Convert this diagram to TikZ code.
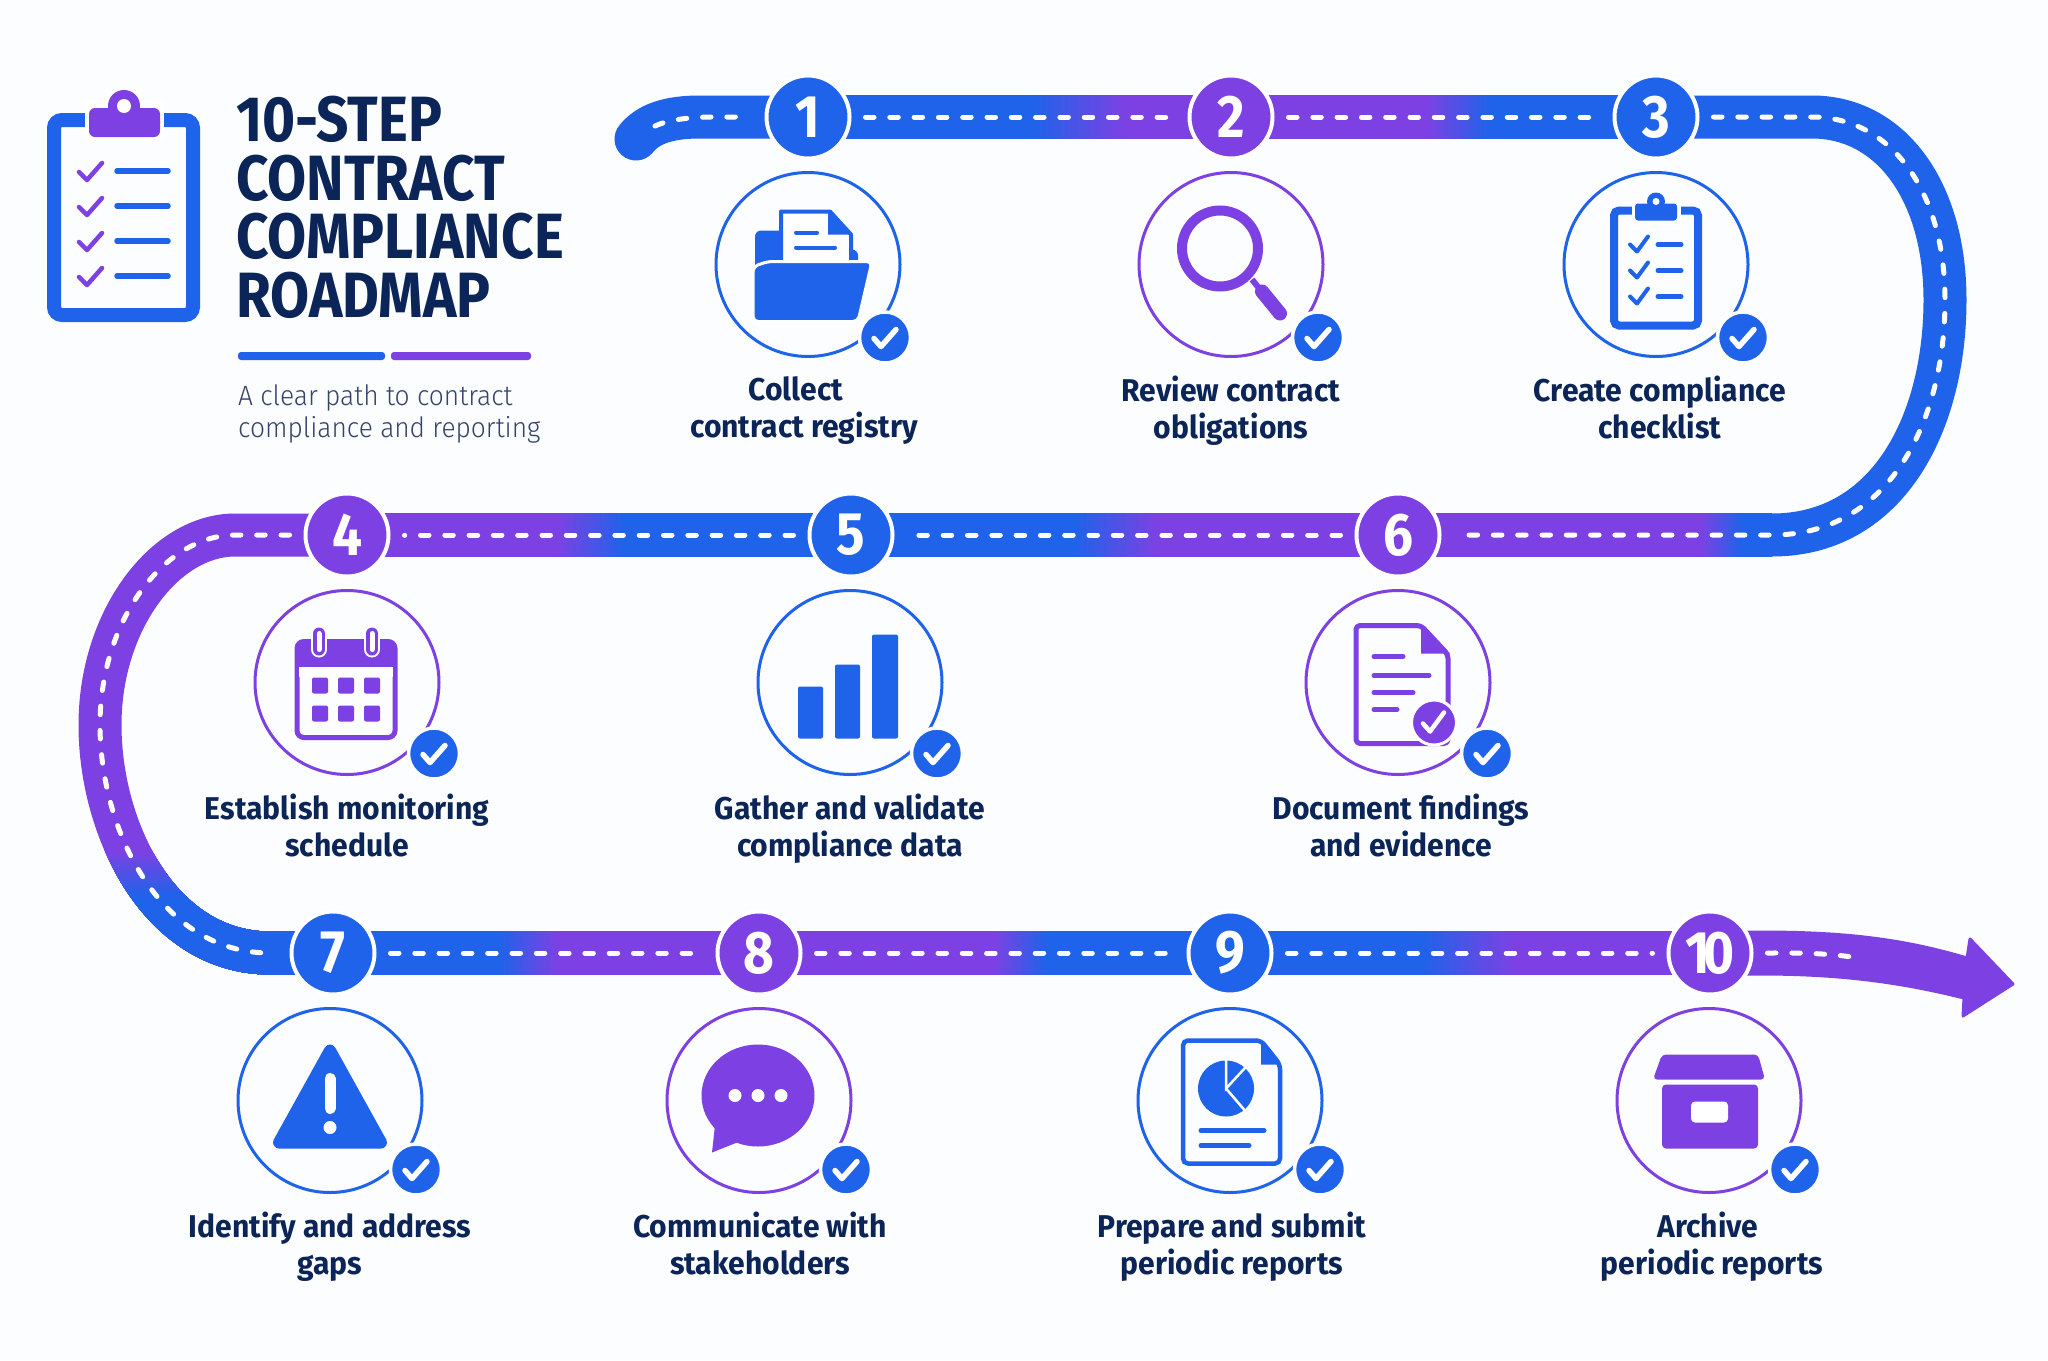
\documentclass[tikz,border=0pt]{standalone}
\usepackage{fontspec}
\usepackage{tikz}
\usetikzlibrary{arrows.meta,positioning,backgrounds}
\newfontfamily\labelfont[FakeStretch=0.955]{Fira Sans}
\newfontfamily\titlefont[FakeStretch=0.885]{Fira Sans}
\newfontfamily\subfont[FakeStretch=0.94]{Fira Sans Light}
\definecolor{roadblue}{HTML}{1E63E9}
\definecolor{roadviolet}{HTML}{7D41E3}
\definecolor{inkblue}{HTML}{0C2558}
\definecolor{subgrey}{HTML}{35436A}
\definecolor{paper}{HTML}{FCFDFE}
% one stretch of road: solid, then a blend in thin steps, then solid
\newcommand{\roadseg}[6]{
  \fill[#3] ([yshift=22pt]#1.center) rectangle ([yshift=-22pt]#2.center);
  \foreach \k [evaluate=\k as \pct using \k*100/30] in {1,...,30}{
    \coordinate (ga) at ({#5+(#6-#5)*\k/30},0 |- #1);
    \fill[#4!\pct!#3] ([yshift=22pt]ga) rectangle ([yshift=-22pt]#2.center);
  }
}
\newcommand{\oktick}[1]{\draw[white,line width=5.5pt,line join=round,line cap=round]
  ([shift={(-11,1)}]#1.center) -- ([shift={(-4,9)}]#1.center) -- ([shift={(11,-8)}]#1.center);}
\def\rightbend{(rt) .. controls (1890,117) and (1945,190) .. (1945,300) .. controls (1945,420) and (1890,535) .. (rb)}
\def\leftbend{(lt) .. controls (165,535) and (100,620) .. (100,725) .. controls (100,830) and (160,953) .. (lb)}
\begin{document}
\begin{tikzpicture}[x=1pt,y=-1pt,
  node distance=10.5pt,
  stepnum/.style={circle,fill=#1,draw=white,line width=4pt,minimum size=83pt,inner sep=0pt,text=white,font=\titlefont\bfseries\fontsize{60}{60}\selectfont},
  ring/.style={circle,draw=#1,line width=3pt,minimum size=184pt,inner sep=0pt},
  okbadge/.style={circle,fill=roadblue,draw=white,line width=3.5pt,minimum size=51pt,inner sep=0pt},
  steplabel/.style={below=18pt of #1,align=center,inner sep=0pt,text=inkblue,font=\labelfont\bfseries\fontsize{31.5}{37}\selectfont,execute at begin node={\rule{0pt}{22pt}}},
  lane/.style={white,line width=5pt,line cap=round,dash pattern=on 8.5pt off 15.8pt,shorten <=14pt,shorten >=14pt},
  roadline/.style={line width=43pt},
  tickline/.style={line width=#1,line cap=round,line join=round}]
\useasboundingbox (0,0) rectangle (2048,1360);

% step numbers on the road
\node[stepnum=roadblue] (n1) at (808,117) {1};
\node[stepnum=roadviolet] (n2) at (1231,117) {2};
\node[stepnum=roadblue] (n3) at (1656,117) {3};
\node[stepnum=roadviolet] (n4) at (347,535) {4};
\node[stepnum=roadblue] (n5) at (851,535) {5};
\node[stepnum=roadviolet] (n6) at (1398,535) {6};
\node[stepnum=roadblue] (n7) at (333,953) {7};
\node[stepnum=roadviolet] (n8) at (759,953) {8};
\node[stepnum=roadblue] (n9) at (1230,953) {9};
\node[stepnum=roadviolet] (n10) at (1710,953) {1\kern-6pt 0};
\coordinate (rs) at (636,139);
\coordinate (rd) at (655,126);
\coordinate (rt) at (1812,117);
\coordinate (rb) at (1772,535);
\coordinate (lt) at (235,535);
\coordinate (lb) at (270,953);
\coordinate (lanetip) at (1860,958);

% road under the nodes
\begin{scope}[on background layer]
\fill[paper] (0,0) rectangle (2048,1360);
\draw[roadline,roadblue,line cap=round] (rs) .. controls (648,124) and (668,117) .. (700,117) -- (n1.center);
\roadseg{n1}{n2}{roadblue}{roadviolet}{1030}{1125}
\roadseg{n2}{n3}{roadviolet}{roadblue}{1426}{1490}
\draw[roadline,roadblue] (n3.center) -- \rightbend -- ++(-12,0);
\roadseg{n6}{rb}{roadviolet}{roadblue}{1700}{1742}
\roadseg{n5}{n6}{roadblue}{roadviolet}{1072}{1158}
\roadseg{n4}{n5}{roadviolet}{roadblue}{555}{625}
\draw[roadline,roadviolet] (n4.center) -- \leftbend -- (n7.center);
\foreach \i [evaluate=\i as \pct using \i*100/15] in {0,...,15}{
  \begin{scope}
  \clip (0,{850+3*\i}) rectangle (600,1100);
  \draw[roadline,roadblue!\pct!roadviolet] (n4.center) -- \leftbend -- (n7.center);
  \end{scope}
}
\roadseg{n7}{n8}{roadblue}{roadviolet}{498}{558}
\roadseg{n8}{n9}{roadviolet}{roadblue}{993}{1047}
\roadseg{n9}{n10}{roadblue}{roadviolet}{1419}{1514}
\fill[roadviolet,draw=roadviolet,line width=3pt,line join=round] (1710,932) -- (1760,932) .. controls (1840,932) and (1900,938) .. (1967,958) -- (1970,939)
  -- (2013,984) -- (1963,1016) -- (1964,998) .. controls (1900,982) and (1840,974) .. (1760,974) -- (1710,974) -- cycle;
\end{scope}

% centre line
\draw[lane,shorten <=0pt] (rd) .. controls (668,120) and (688,117) .. (715,117) -- (n1);
\draw[lane] (n1) -- (n2);
\draw[lane] (n2) -- (n3);
\draw[lane] (n3) -- \rightbend -- (n6);
\draw[lane] (n6) -- (n5);
\draw[lane] (n5) -- (n4);
\draw[lane] (n4) -- \leftbend -- (n7);
\draw[lane] (n7) -- (n8);
\draw[lane] (n8) -- (n9);
\draw[lane] (n9) -- (n10);
\draw[lane,shorten >=0pt] (n10) to[out=0,in=172] (lanetip);

% heading
\begin{scope}
\draw[roadblue,line width=14pt,rounded corners=8pt] (54,120) rectangle (193,315);
\fill[white] (85,100) rectangle (164,140);
\fill[roadviolet,rounded corners=6pt] (89,108) rectangle (160,137);
\fill[roadviolet] (124,106) circle (16);
\fill[white] (124,106) circle (7);
\foreach \y in {172,207,242,277}{
  \draw[roadviolet,tickline=4.5pt] (79,\y) -- (87,{\y+8}) -- (102,{\y-9});
  \draw[roadblue,tickline=5.5pt] (117,{\y-1}) -- (168,{\y-1});
}
\end{scope}
\node[anchor=north west,align=left,inner sep=0pt,text=inkblue,font=\titlefont\bfseries\fontsize{64}{58.5}\selectfont,execute at begin node={\rule{0pt}{44pt}}] (title) at (236,96) {10-STEP\\CONTRACT\\COMPLIANCE\\ROADMAP};
\fill[roadblue,rounded corners=3pt] (238,352) rectangle (385,360);
\fill[roadviolet,rounded corners=3pt] (391,352) rectangle (531,360);
\node[anchor=north west,align=left,inner sep=0pt,text=subgrey,font=\subfont\fontsize{28}{32.5}\selectfont,execute at begin node={\rule{0pt}{22pt}}] (sub) at (238,384) {A clear path to contract\\compliance and reporting};

% rings, badges and captions
\node[ring=roadblue,below=of n1] (r1) {};
\node[ring=roadviolet,below=of n2] (r2) {};
\node[ring=roadblue,below=of n3] (r3) {};
\node[ring=roadviolet,below=of n4] (r4) {};
\node[ring=roadblue,below=of n5,xshift=-1pt] (r5) {};
\node[ring=roadviolet,below=of n6] (r6) {};
\node[ring=roadblue,below=of n7,xshift=-3pt] (r7) {};
\node[ring=roadviolet,below=of n8] (r8) {};
\node[ring=roadblue,below=of n9] (r9) {};
\node[ring=roadviolet,below=of n10,xshift=-1pt] (r10) {};
\node[okbadge] (b1) at ([shift={(77,73)}]r1) {};
\node[okbadge] (b2) at ([shift={(87,73)}]r2) {};
\node[okbadge] (b3) at ([shift={(87,73)}]r3) {};
\node[okbadge] (b4) at ([shift={(87,71)}]r4) {};
\node[okbadge] (b5) at ([shift={(87,71)}]r5) {};
\node[okbadge] (b6) at ([shift={(89,71)}]r6) {};
\node[okbadge] (b7) at ([shift={(86,69)}]r7) {};
\node[okbadge] (b8) at ([shift={(87,69)}]r8) {};
\node[okbadge] (b9) at ([shift={(90,69)}]r9) {};
\node[okbadge] (b10) at ([shift={(86,69)}]r10) {};
\foreach \i in {1,...,10}{\oktick{b\i}}
\node[steplabel=r1,xshift=-4pt] (t1) {Collect\hspace*{16pt}\\contract registry};
\node[steplabel=r2] (t2) {Review contract\\obligations};
\node[steplabel=r3,xshift=4pt] (t3) {Create compliance\\checklist};
\node[steplabel=r4] (t4) {Establish monitoring\\schedule};
\node[steplabel=r5] (t5) {Gather and validate\\compliance data};
\node[steplabel=r6,xshift=3pt] (t6) {Document findings\\and evidence};
\node[steplabel=r7] (t7) {Identify and address\\gaps};
\node[steplabel=r8,xshift=1pt] (t8) {Communicate with\\stakeholders};
\node[steplabel=r9,xshift=2pt] (t9) {Prepare and submit\\periodic reports};
\node[steplabel=r10,xshift=3pt] (t10) {Archive\hspace*{8pt}\\periodic reports};

% folder
\begin{scope}[shift={(r1)}]
\fill[roadblue,rounded corners=6pt] (-53,-34) -- (-22,-34) -- (-22,-15) -- (50,-15) -- (50,55) -- (-53,55) -- cycle;
\draw[roadblue,fill=white,line width=4pt,line join=round] (-27,-53) -- (22,-53) -- (43,-30) -- (43,2) -- (-27,2) -- cycle;
\fill[roadblue] (20,-53) -- (43,-30) -- (20,-30) -- cycle;
\draw[roadblue,tickline=4pt] (-12,-32) -- (9,-32);
\draw[roadblue,tickline=4pt] (-12,-17) -- (27,-17);
\draw[white,fill=roadblue,line width=3pt,rounded corners=5pt] (-40,-3) -- (64,-3) -- (50,57) -- (-55,57) -- (-55,2) -- cycle;
\end{scope}

% magnifier
\begin{scope}[shift={(r2)}]
\draw[roadviolet,line width=10pt] (-11,-16) circle (38);
\draw[roadviolet,line width=6pt] (21,15) -- (29,25);
\draw[roadviolet,tickline=14pt] (31,27) -- (49,49);
\end{scope}

% checklist
\begin{scope}[shift={(r3)}]
\draw[roadblue,line width=8pt,rounded corners=5pt] (-42,-54) rectangle (42,61);
\fill[white] (-24,-66) rectangle (25,-40);
\fill[roadblue,rounded corners=3pt] (-21,-61) rectangle (21,-44);
\fill[roadblue] (0,-63) circle (9);
\fill[white] (0,-63) circle (3.5);
\foreach \y in {-20,6,32}{
  \draw[roadblue,tickline=4pt] (-26,\y) -- (-19,{\y+7}) -- (-8,{\y-8});
  \draw[roadblue,tickline=5pt] (2,\y) -- (25,\y);
}
\end{scope}

% calendar
\begin{scope}[shift={(r4)}]
\draw[roadviolet,line width=5pt,rounded corners=7pt] (-50,-41) rectangle (48,55);
\fill[roadviolet,rounded corners=5pt] (-50,-41) rectangle (48,-8);
\fill[white] (-48,-16) rectangle (46,-6);
\foreach \x in {-28,25}{
  \draw[white,tickline=16pt] (\x,-51) -- (\x,-33);
  \draw[roadviolet,tickline=12pt] (\x,-49) -- (\x,-33);
  \draw[white,tickline=5pt] (\x,-49) -- (\x,-33);
}
\foreach \x in {-27,-1,25}{
  \foreach \y in {3,31}{\fill[roadviolet,rounded corners=2pt] ({\x-8},{\y-8}) rectangle ({\x+8},{\y+8});}
}
\end{scope}

% bars
\begin{scope}[shift={(r5)},roadblue,rounded corners=2pt]
\fill (-52,4) rectangle (-27,56);
\fill (-15,-18) rectangle (10,56);
\fill (22,-48) rectangle (48,56);
\end{scope}

% findings sheet
\begin{scope}[shift={(r6)}]
\draw[roadviolet,line width=5pt,line join=round,rounded corners=4pt] (-42,-57) -- (23,-57) -- (50,-28) -- (50,61) -- (-42,61) -- cycle;
\fill[roadviolet,line join=round] (23,-59) -- (52,-29) -- (23,-29) -- cycle;
\draw[roadviolet,tickline=5pt] (-24,-26) -- (5,-26);
\draw[roadviolet,tickline=5pt] (-24,-7) -- (31,-7);
\draw[roadviolet,tickline=5pt] (-24,10) -- (15,10);
\draw[roadviolet,tickline=5pt] (-24,27) -- (-1,27);
\node[circle,fill=roadviolet,draw=white,line width=3pt,minimum size=45pt,inner sep=0pt] (b6s) at (36,40) {};
\draw[white,tickline=4.5pt] (25,41) -- (32,49) -- (46,30);
\end{scope}

% warning
\begin{scope}[shift={(r7)}]
\filldraw[roadblue,line width=12pt,line join=round] (0,-50) -- (-51,42) -- (51,42) -- cycle;
\draw[white,tickline=11pt] (0,-22) -- (0,8);
\fill[white] (0,27) circle (6.5);
\end{scope}

% speech bubble
\begin{scope}[shift={(r8)}]
\fill[roadviolet] (-1,-5) ellipse (56.5 and 51);
\fill[roadviolet,line join=round] (-44,25) -- (-47,52) -- (-22,42) -- cycle;
\foreach \x in {-24,-1,22}{\fill[white] (\x,-5) circle (6.5);}
\end{scope}

% report with pie
\begin{scope}[shift={(r9)}]
\draw[roadblue,line width=4.5pt,rounded corners=5pt] (-47,-60) -- (31,-60) -- (50,-36) -- (50,63) -- (-47,63) -- cycle;
\fill[roadblue] (31,-61) -- (51,-36) -- (31,-36) -- cycle;
\fill[roadblue] (-4,-12) circle (28);
\draw[white,line width=2.5pt] (-4,-42) -- (-4,-12) -- (20,-38);
\draw[white,line width=2.5pt] (-4,-12) -- (20,16);
\draw[roadblue,tickline=5pt] (-29,30) -- (34,30);
\draw[roadblue,tickline=5pt] (-29,45) -- (19,45);
\end{scope}

% archive box
\begin{scope}[shift={(r10)},roadviolet]
\fill[rounded corners=4pt] (-47,-46) -- (49,-46) -- (56,-21) -- (-56,-21) -- cycle;
\fill[rounded corners=4pt] (-47,-16) -- (49,-16) -- (49,48) -- (-47,48) -- cycle;
\fill[white,rounded corners=4pt] (-18,1) rectangle (19,22);
\end{scope}
\end{tikzpicture}
\end{document}
